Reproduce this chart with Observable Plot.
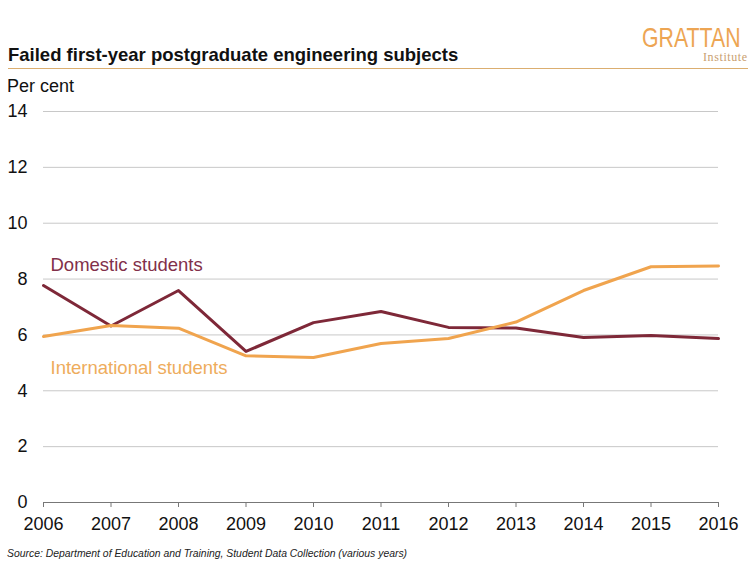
<!DOCTYPE html>
<html><head><meta charset="utf-8">
<script src="https://cdn.jsdelivr.net/npm/d3@7"></script>
<script src="https://cdn.jsdelivr.net/npm/@observablehq/plot@0.6"></script>
<style>
body{margin:0;background:#fff;font-family:"Liberation Sans",Arial,sans-serif;}
#wrap{position:relative;width:750px;height:562px;overflow:hidden;}
#wrap div{line-height:1;white-space:nowrap;}
#title{position:absolute;left:8px;top:46.3px;font-size:18.5px;font-weight:bold;color:#111;}
#rule{position:absolute;left:8px;top:67.5px;width:740px;height:0;border-top:1.5px solid #dbae70;}
#wrap #logo{position:absolute;left:642px;top:26.8px;font-size:28px;line-height:0.8;color:#eda553;transform:scaleX(0.76);transform-origin:left top;}
#inst{position:absolute;left:703px;top:50.5px;font-size:12px;letter-spacing:0.6px;color:#c9a070;font-family:"Liberation Serif","Times New Roman",serif;}
#unit{position:absolute;left:7px;top:76.8px;font-size:18px;color:#111;}
#source{position:absolute;left:7px;top:549.2px;font-size:10.4px;font-style:italic;color:#222;}
#chart{position:absolute;left:0;top:0;}
</style></head>
<body>
<div id="wrap">
<div id="chart"></div>
<div id="title">Failed first-year postgraduate engineering subjects</div>
<div id="rule"></div>
<div id="logo">GRATTAN</div>
<div id="inst">Institute</div>
<div id="unit">Per cent</div>
<div id="source">Source: Department of Education and Training, Student Data Collection (various years)</div>
</div>
<script>
const years = [2006, 2007, 2008, 2009, 2010, 2011, 2012, 2013, 2014, 2015, 2016];
const domestic = [7.77, 6.32, 7.59, 5.41, 6.44, 6.84, 6.27, 6.25, 5.91, 5.98, 5.87];
const international = [5.94, 6.34, 6.24, 5.25, 5.19, 5.69, 5.87, 6.46, 7.59, 8.44, 8.47];
const yTicks = [0, 2, 4, 6, 8, 10, 12, 14];
const seriesNames = ["Domestic students", "International students"];
const colors = ["#7e2838", "#f0a44e"];
const labelColors = ["#82304a", "#eeac5c"];

const data = [];
years.forEach((yr, i) => {
  data.push({year: yr, value: domestic[i], series: seriesNames[0]});
  data.push({year: yr, value: international[i], series: seriesNames[1]});
});

const chart = Plot.plot({
  width: 750,
  height: 562,
  marginTop: 111,
  marginBottom: 60,
  marginLeft: 43,
  marginRight: 32,
  style: {fontFamily: "Liberation Sans, Arial, sans-serif", fontSize: "18px", color: "#111", background: "transparent"},
  x: {domain: [2006, 2016]},
  y: {domain: [0, 14]},
  color: {domain: seriesNames, range: colors},
  marks: [
    Plot.gridY(yTicks.filter(d => d > 0), {stroke: "#c8c8c8", strokeOpacity: 1, strokeWidth: 1}),
    Plot.axisY(yTicks, {tickSize: 0, tickPadding: 16, fontSize: 18, label: null, fill: "#111"}),
    Plot.axisX(years, {tickSize: 5, tickPadding: 10, fontSize: 18, label: null, tickFormat: d => String(d), stroke: "#777", fill: "#111"}),
    Plot.ruleY([0], {stroke: "#777", strokeWidth: 1}),
    Plot.line(data, {x: "year", y: "value", stroke: "series", strokeWidth: 3, curve: "linear"}),
    Plot.text([seriesNames[0]], {x: 2006, y: 8.5, text: d => d, fill: labelColors[0], textAnchor: "start", dx: 7, fontSize: 18.5}),
    Plot.text([seriesNames[1]], {x: 2006, y: 4.8, text: d => d, fill: labelColors[1], textAnchor: "start", dx: 7, fontSize: 18.5})
  ]
});
document.getElementById("chart").appendChild(chart);
</script>
</body></html>
